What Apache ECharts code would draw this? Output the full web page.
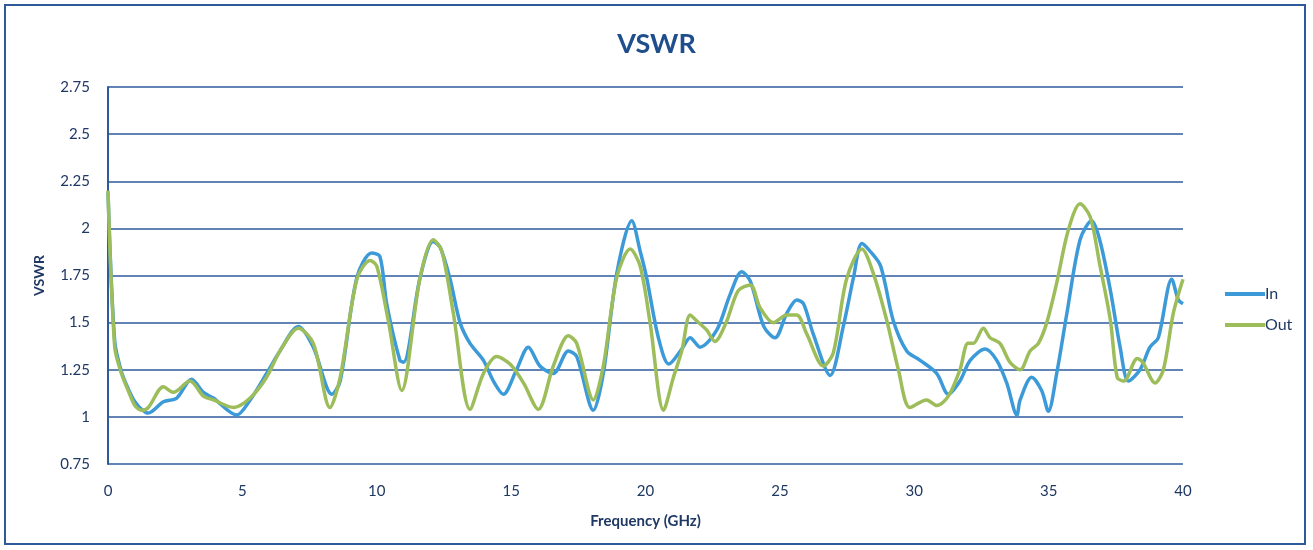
<!DOCTYPE html>
<html>
<head>
<meta charset="utf-8">
<script src="https://cdn.jsdelivr.net/npm/echarts@6/dist/echarts.min.js"></script>
<style>
html, body { margin: 0; padding: 0; background: #fff; }
#chart { width: 1313px; height: 550px; }
</style>
</head>
<body>
<div id="chart"></div>
<script>
// 数据
var inFreq = [0, 0.25, 0.5, 0.75, 1.0, 1.25, 1.5, 2.06, 2.56, 3.11, 3.55, 3.92, 4.79, 5.29, 5.9, 6.4, 7.08, 7.64, 8.33, 8.64,
	9.26, 9.81, 10.12, 10.37, 10.86, 11.0, 11.6, 12.1, 12.36, 12.73, 13.1, 13.47, 13.97, 14.34, 14.71, 15.2, 15.64, 16.07, 16.57,
	17.13, 17.44, 18.06, 18.43, 18.93, 19.49, 19.8, 20.04, 20.48, 20.87, 21.35, 21.66, 22.03, 22.65, 23.15, 23.58, 23.9, 24.4,
	24.82, 25.26, 25.63, 25.88, 26.24, 26.87, 27.36, 27.74, 28.05, 28.35, 28.75, 29.22, 29.72, 30.22, 30.84, 31.27, 31.7, 32.08,
	32.64, 33.07, 33.44, 33.82, 33.94, 34.37, 34.74, 34.99, 35.3, 35.68, 36.17, 36.6, 36.9, 37.3, 37.66, 37.97, 38.4, 38.77,
	39.08, 39.58, 39.83, 40];
var inVswr = [2.19, 1.4, 1.24, 1.15, 1.08, 1.04, 1.02, 1.08, 1.1, 1.2, 1.13, 1.1, 1.01, 1.09, 1.23, 1.35, 1.48, 1.37, 1.12, 1.19,
	1.74, 1.87, 1.85, 1.6, 1.3, 1.29, 1.73, 1.93, 1.9, 1.73, 1.5, 1.39, 1.3, 1.19, 1.12, 1.25, 1.37, 1.27, 1.23,
	1.35, 1.32, 1.035, 1.23, 1.76, 2.04, 1.88, 1.74, 1.42, 1.28, 1.36, 1.42, 1.37, 1.46, 1.65, 1.77, 1.72, 1.48,
	1.42, 1.55, 1.62, 1.6, 1.44, 1.22, 1.48, 1.74, 1.92, 1.88, 1.8, 1.51, 1.35, 1.3, 1.23, 1.12, 1.19, 1.3,
	1.36, 1.3, 1.18, 1.01, 1.09, 1.21, 1.14, 1.03, 1.23, 1.55, 1.94, 2.04, 1.94, 1.67, 1.37, 1.19, 1.25, 1.37,
	1.42, 1.73, 1.62, 1.6];
var outFreq = [0, 0.25, 0.5, 0.75, 1.0, 1.25, 1.5, 2.06, 2.43, 3.05, 3.55, 3.92, 4.67, 5.29, 5.9, 6.4, 7.08, 7.64, 8.26, 8.64,
	9.26, 9.75, 10.0, 10.43, 10.93, 11.6, 12.1, 12.42, 12.85, 13.47, 13.97, 14.46, 14.96, 15.46, 16.01, 16.57, 17.13, 17.44,
	18.06, 18.43, 18.93, 19.43, 19.8, 20.17, 20.67, 21.04, 21.35, 21.66, 21.9, 22.28, 22.58, 23.0, 23.45, 23.9, 24.26, 24.76,
	25.26, 25.63, 26.0, 26.62, 26.99, 27.48, 28.05, 28.48, 28.98, 29.41, 29.84, 30.46, 30.84, 31.27, 31.7, 32.0, 32.2, 32.57,
	32.82, 33.19, 33.56, 33.94, 34.31, 34.62, 34.93, 35.3, 35.73, 36.17, 36.55, 36.9, 37.3, 37.55, 37.8, 38.3, 38.5, 38.96,
	39.27, 39.64, 40];
var outVswr = [2.2, 1.37, 1.23, 1.14, 1.06, 1.035, 1.05, 1.16, 1.13, 1.19, 1.11, 1.09, 1.05, 1.1, 1.21, 1.35, 1.47, 1.39, 1.05, 1.21,
	1.73, 1.83, 1.8, 1.51, 1.14, 1.73, 1.94, 1.88, 1.55, 1.04, 1.23, 1.32, 1.28, 1.18, 1.04, 1.27, 1.43, 1.39,
	1.09, 1.27, 1.74, 1.89, 1.8, 1.5, 1.035, 1.21, 1.35, 1.54, 1.51, 1.46, 1.4, 1.5, 1.67, 1.7, 1.58, 1.5,
	1.54, 1.54, 1.44, 1.27, 1.34, 1.73, 1.89, 1.76, 1.51, 1.25, 1.05, 1.09, 1.06, 1.11, 1.25, 1.39, 1.39, 1.47,
	1.42, 1.39, 1.29, 1.25, 1.35, 1.39, 1.5, 1.71, 1.99, 2.13, 2.06, 1.81, 1.51, 1.21, 1.19, 1.31, 1.29, 1.18,
	1.25, 1.55, 1.73];

var textColor = '#1f3864';
var gridColor = '#2e5a9c';

// 组合成点对
function toPairs(xs, ys) {
	var res = [];
	for (var i = 0; i < xs.length; i++) {
		res.push([xs[i], ys[i]]);
	}
	return res;
}

var chart = echarts.init(document.getElementById('chart'));
var option = {
	animation : false,
	textStyle : {
		fontFamily : 'Lato'
	},
	graphic : [ {
		type : 'rect',
		shape : { x : 5, y : 5, width : 1300, height : 539 },
		style : { fill : 'none', stroke : gridColor, lineWidth : 2 },
		silent : true
	} ],
	title : {
		text : 'VSWR',
		left : 'center',
		top : 26,
		textStyle : {
			color : '#1f4e8c',
			fontSize : 27,
			fontWeight : 'bold',
			fontFamily : 'Lato'
		}
	},
	legend : {
		orient : 'vertical',
		left : 1220,
		top : 281,
		itemGap : 15,
		itemWidth : 40,
		itemHeight : 4,
		icon : 'rect',
		data : [ 'In', 'Out' ],
		textStyle : {
			color : textColor,
			fontSize : 16,
			padding : [ 0, 0, 0, -5 ]
		}
	},
	grid : {
		left : 108,
		right : 130,
		top : 87,
		bottom : 86
	},
	xAxis : {
		type : 'value',
		min : 0,
		max : 40,
		interval : 5,
		name : 'Frequency (GHz)',
		nameLocation : 'middle',
		nameGap : 50,
		nameTextStyle : {
			color : textColor,
			fontSize : 15,
			fontWeight : 'bold'
		},
		axisLine : { show : false },
		axisTick : { show : false },
		splitLine : { show : false },
		axisLabel : {
			color : textColor,
			fontSize : 15,
			margin : 20
		}
	},
	yAxis : {
		type : 'value',
		min : 0.75,
		max : 2.75,
		interval : 0.25,
		name : 'VSWR',
		nameLocation : 'middle',
		nameGap : 62,
		nameTextStyle : {
			color : textColor,
			fontSize : 14,
			fontWeight : 'bold'
		},
		axisLine : {
			show : true,
			lineStyle : { color : gridColor, width : 2 }
		},
		axisTick : { show : false },
		splitLine : {
			lineStyle : { color : gridColor, width : 1.5 }
		},
		axisLabel : {
			color : textColor,
			fontSize : 15,
			margin : 18,
			formatter : function(v) {
				return String(Math.round(v * 100) / 100);
			}
		}
	},
	series : [ {
		name : 'In',
		type : 'line',
		data : toPairs(inFreq, inVswr),
		showSymbol : false,
		smooth : 0.3,
		lineStyle : { color : '#3d9ad8', width : 3.5 },
		itemStyle : { color : '#3d9ad8' }
	}, {
		name : 'Out',
		type : 'line',
		data : toPairs(outFreq, outVswr),
		showSymbol : false,
		smooth : 0.3,
		lineStyle : { color : '#9cbd5a', width : 3.5 },
		itemStyle : { color : '#9cbd5a' }
	} ]
};
chart.setOption(option);
</script>
</body>
</html>
